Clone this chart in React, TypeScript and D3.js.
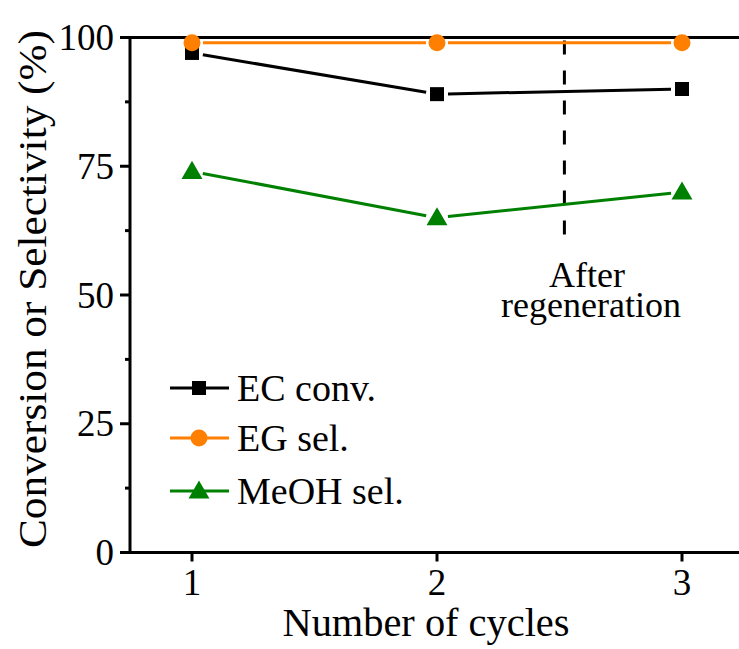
import React from "react";
import * as d3 from "d3";

// Cycle numbers and measured values (%)
const cycles = [1, 2, 3];
const ecConv = [97, 89, 90];
const egSel = [99, 99, 99];
const meohSel = [74, 65, 70];

const seriesNames = ["EC conv.", "EG sel.", "MeOH sel."];
const seriesColors = ["#000000", "#FF7F00", "#008000"];
const seriesShapes = ["square", "circle", "triangle"];

const yTicks = [0, 25, 50, 75, 100];
const yMinorTicks = [12.5, 37.5, 62.5, 87.5];
const xTicks = [1, 2, 3];
const regenerationAt = 2.52;

const W = 739;
const H = 649;
const FONT = "Liberation Serif, Times New Roman, serif";

function Marker({ shape, cx, cy, color }: { shape: string; cx: number; cy: number; color: string }) {
  if (shape === "square") {
    return <rect x={cx - 7} y={cy - 7} width={14} height={14} fill={color} />;
  }
  if (shape === "circle") {
    return <circle cx={cx} cy={cy} r={8.5} fill={color} />;
  }
  const sym = d3.symbol().type(d3.symbolTriangle).size(190)();
  return <path d={sym || ""} transform={`translate(${cx},${cy + 1.5})`} fill={color} />;
}

export default function App() {
  const x = d3.scaleLinear().domain([1, 3]).range([192, 682]);
  const y = d3.scaleLinear().domain([0, 100]).range([552.5, 37.5]);
  const axisLeft = 130;
  const axisRight = W;

  const series = [ecConv, egSel, meohSel];

  // segments between consecutive points, trimmed so they stop short of the markers
  const gap = 11;
  const segments = (vals: number[]) => {
    const out: { x1: number; y1: number; x2: number; y2: number }[] = [];
    for (let i = 0; i < vals.length - 1; i++) {
      const ax = x(cycles[i]), ay = y(vals[i]);
      const bx = x(cycles[i + 1]), by = y(vals[i + 1]);
      const len = Math.hypot(bx - ax, by - ay);
      const ux = (bx - ax) / len, uy = (by - ay) / len;
      out.push({ x1: ax + ux * gap, y1: ay + uy * gap, x2: bx - ux * gap, y2: by - uy * gap });
    }
    return out;
  };

  const legendRows = [388, 438, 491];

  return (
    <svg
      width={W}
      height={H}
      style={{ position: "absolute", left: 0, top: 0, background: "#fff", fontFamily: FONT }}
    >
      {/* frame lines */}
      <line x1={axisLeft - 10} x2={axisRight} y1={y(100)} y2={y(100)} stroke="#000" strokeWidth={3} />
      <line x1={axisLeft - 10} x2={axisRight} y1={y(0)} y2={y(0)} stroke="#000" strokeWidth={3} />
      <line x1={axisLeft} x2={axisLeft} y1={y(100)} y2={y(0)} stroke="#000" strokeWidth={3} />

      {/* y ticks */}
      {yTicks.map((t) => (
        <g key={`yt${t}`}>
          <line x1={axisLeft - 10} x2={axisLeft} y1={y(t)} y2={y(t)} stroke="#000" strokeWidth={3} />
          <text x={114} y={y(t)} dy="0.34em" textAnchor="end" fontSize={37}>
            {t}
          </text>
        </g>
      ))}
      {yMinorTicks.map((t) => (
        <line key={`ym${t}`} x1={axisLeft - 5} x2={axisLeft} y1={y(t)} y2={y(t)} stroke="#000" strokeWidth={3} />
      ))}

      {/* x ticks */}
      {xTicks.map((t) => (
        <g key={`xt${t}`}>
          <line x1={x(t)} x2={x(t)} y1={y(0)} y2={y(0) + 9} stroke="#000" strokeWidth={3} />
          <text x={x(t)} y={595} textAnchor="middle" fontSize={37}>
            {t}
          </text>
        </g>
      ))}

      {/* axis titles */}
      <text x={426} y={636} textAnchor="middle" fontSize={40} textLength={287} lengthAdjust="spacingAndGlyphs">
        Number of cycles
      </text>
      <text
        transform={`translate(46,289) rotate(-90)`}
        textAnchor="middle"
        fontSize={40}
        textLength={518}
        lengthAdjust="spacingAndGlyphs"
      >
        Conversion or Selectivity (%)
      </text>

      {/* regeneration marker */}
      <line
        x1={x(regenerationAt)}
        x2={x(regenerationAt)}
        y1={y(100) + 3}
        y2={250}
        stroke="#000"
        strokeWidth={3}
        strokeDasharray="14 16"
      />
      <text textAnchor="middle" fontSize={36}>
        <tspan x={587} y={287}>After</tspan>
        <tspan x={591} y={317}>regeneration</tspan>
      </text>

      {/* series */}
      {series.map((vals, si) => (
        <g key={`s${si}`}>
          {segments(vals).map((s, i) => (
            <line key={i} {...s} stroke={seriesColors[si]} strokeWidth={3} />
          ))}
          {vals.map((v, i) => (
            <Marker key={i} shape={seriesShapes[si]} cx={x(cycles[i])} cy={y(v)} color={seriesColors[si]} />
          ))}
        </g>
      ))}

      {/* legend */}
      {seriesNames.map((name, i) => (
        <g key={`lg${i}`}>
          <line x1={170} x2={229} y1={legendRows[i]} y2={legendRows[i]} stroke={seriesColors[i]} strokeWidth={3} />
          <Marker shape={seriesShapes[i]} cx={199} cy={legendRows[i]} color={seriesColors[i]} />
          <text x={237} y={legendRows[i]} dy="0.35em" fontSize={38}>
            {name}
          </text>
        </g>
      ))}
    </svg>
  );
}
